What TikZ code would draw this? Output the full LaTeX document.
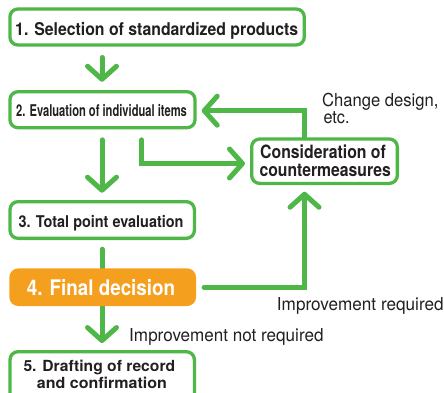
\documentclass[tikz,border=0pt]{standalone}
\usepackage{fontspec}
\usepackage{graphicx}
\setmainfont{TeX Gyre Heros}
\usetikzlibrary{arrows.meta,calc,backgrounds}
\definecolor{grn}{RGB}{78,183,72}
\definecolor{org}{RGB}{245,159,30}
\definecolor{ink}{RGB}{35,31,32}
\newcommand{\fitw}[2]{\resizebox{#1}{\height}{#2}}
\tikzset{
  box/.style={draw=grn, line width=3.3pt, rounded corners=8pt, fill=white, inner sep=0pt},
  obox/.style={fill=org, rounded corners=9pt, inner sep=0pt, outer sep=0pt},
  conn/.style={draw=grn, line width=5pt, line cap=round, line join=miter},
  arr/.style={conn, -{Straight Barb[length=13pt,width=29pt,round]}},
  lbl/.style={anchor=base west, inner sep=0pt, text=ink},
  bt/.style={lbl, font=\bfseries},
}
\begin{document}
\begin{tikzpicture}[x=1pt,y=-1pt]
\path[use as bounding box, clip] (0,0) rectangle (444,393);
% boxes
\node[box, minimum width=294.4pt, minimum height=36pt] (b1) at (157.1,27) {};
\node[box, minimum width=185.1pt, minimum height=36pt] (b2) at (102.5,109.7) {};
\node[box, minimum width=184.4pt, minimum height=36.7pt] (b3) at (102.2,220) {};
\node[obox, minimum width=186.7pt, minimum height=37.7pt] (b4) at (102.7,287.2) {};
\node[box, minimum width=184.4pt, minimum height=50pt] (b5) at (102.2,376.7) {};
\node[box, minimum width=145.7pt, minimum height=44.4pt] (cons) at (324.5,161.2) {};
% texts
\node[bt] (t1) at (15,35.3) {\fontsize{17.6}{20}\selectfont\fitw{283pt}{1. Selection of standardized products}};
\node[bt] (t2) at (16,117) {\fontsize{16.2}{19}\selectfont\fitw{170.7pt}{2. Evaluation of individual items}};
\node[bt] (t3) at (18.3,227.6) {\fontsize{16.2}{19}\selectfont\fitw{165pt}{3. Total point evaluation}};
\node[bt, text=white] (t4) at (26.7,295.3) {\fontsize{21.5}{25}\selectfont\fitw{148.3pt}{4. Final decision}};
\node[bt] (t5a) at (23.3,371.7) {\fontsize{15.3}{18}\selectfont\fitw{151.7pt}{5. Drafting of record}};
\node[bt] (t5b) at (36.7,388.3) {\fontsize{15.3}{18}\selectfont\fitw{130pt}{and confirmation}};
\node[bt] (tca) at (260,158.3) {\fontsize{18.3}{21}\selectfont\fitw{125.7pt}{Consideration of}};
\node[bt] (tcb) at (259.3,176.7) {\fontsize{18.3}{21}\selectfont\fitw{131.3pt}{countermeasures}};
\node[lbl] (l1) at (322,106.7) {\fontsize{17.8}{21}\selectfont\fitw{116.3pt}{Change design,}};
\node[lbl] (l2) at (323.3,124) {\fontsize{17.8}{21}\selectfont\fitw{26pt}{etc.}};
\node[lbl] (l3) at (276.7,310) {\fontsize{17.8}{21}\selectfont\fitw{166.7pt}{Improvement required}};
\node[lbl] (l4) at (129,341.7) {\fontsize{17.8}{21}\selectfont\fitw{194.3pt}{Improvement not required}};
% column coordinates
\coordinate (cx) at (102,0);
\coordinate (cy) at (141.7,0);
\coordinate (cz) at (304.5,0);
\begin{pgfonlayer}{background}
\draw[arr] ($(b1.south -| cx)+(0,10.8)$) -- ($(b2.north -| cx)+(0,-8.3)$);
\draw[arr] ($(b2.south -| cx)+(0,10.5)$) -- ($(b3.north -| cx)+(0,-7.3)$);
\draw[conn] ($(b3.south -| cx)+(0,9.2)$) -- (b4.center -| cx);
\draw[arr] (b4.center -| cx) -- ($(b5.north -| cx)+(0,-7)$);
\coordinate (e2c) at ($(cons.west)+(-5,2.3)$);
\draw[arr] ($(b2.south -| cy)+(0,10.5)$) -- (cy |- e2c) -- (e2c);
\coordinate (hc2) at ($(b2.east)+(5,1)$);
\draw[arr] (cons.north -| cz) -- (cz |- hc2) -- (hc2);
\coordinate (s4c) at ($(b4.east)+(8,0)$);
\draw[arr] (s4c) -- (cz |- s4c) -- ($(cons.south -| cz)+(0,6.7)$);
\end{pgfonlayer}
\end{tikzpicture}
\end{document}
